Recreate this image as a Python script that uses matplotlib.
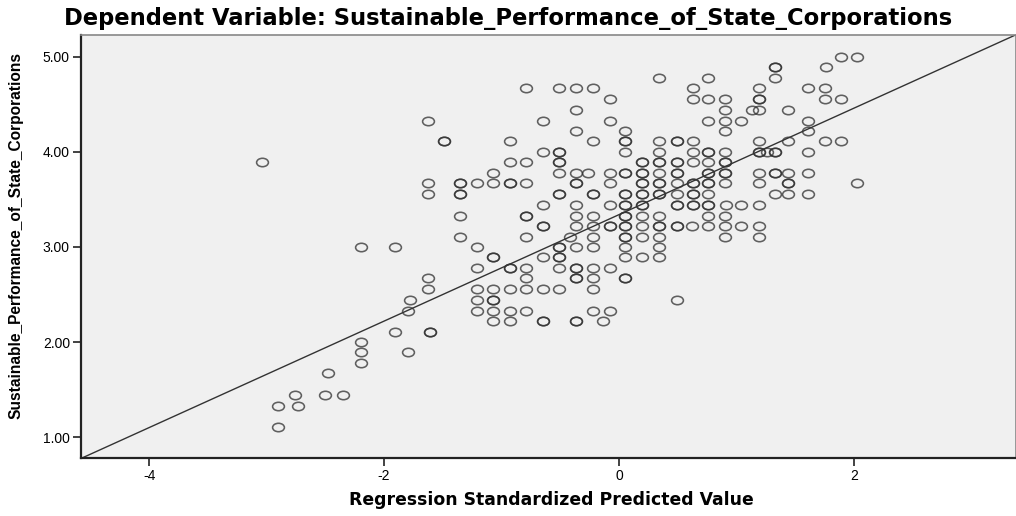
import numpy as np
import matplotlib.pyplot as plt
from matplotlib.path import Path

# Observed values (multiples of 1/9) and the standardized predicted values at each level
obs_levels = [5.00, 4.89, 4.78, 4.67, 4.56, 4.44, 4.33, 4.22, 4.11, 4.00,
              3.89, 3.78, 3.67, 3.56, 3.44, 3.33, 3.22, 3.11, 3.00, 2.89,
              2.78, 2.67, 2.56, 2.44, 2.33, 2.22, 2.11, 2.00, 1.89, 1.78,
              1.67, 1.44, 1.33, 1.11]

pred_by_level = [
    [1.89, 2.03],
    [1.33, 1.33, 1.76],
    [0.34, 0.76, 1.33],
    [-0.79, -0.51, -0.37, -0.22, 0.63, 1.19, 1.61, 1.75],
    [-0.08, 0.63, 0.76, 0.90, 1.19, 1.19, 1.75, 1.89],
    [-0.37, 0.90, 1.13, 1.19, 1.44],
    [-1.63, -0.65, -0.08, 0.76, 0.90, 1.04, 1.61],
    [-0.37, 0.05, 0.90, 1.61],
    [-1.49, -1.49, -0.93, -0.22, 0.05, 0.05, 0.34, 0.49, 0.49, 0.63, 1.19,
     1.44, 1.75, 1.89],
    [-0.65, -0.51, -0.51, 0.05, 0.34, 0.63, 0.76, 0.76, 0.90, 1.19, 1.19,
     1.26, 1.33, 1.33, 1.61],
    [-3.04, -0.93, -0.79, -0.51, -0.51, 0.20, 0.20, 0.34, 0.34, 0.49, 0.49,
     0.63, 0.76, 0.90, 0.90],
    [-1.07, -0.51, -0.37, -0.26, -0.08, 0.05, 0.05, 0.20, 0.20, 0.34, 0.49,
     0.49, 0.76, 0.76, 0.90, 0.90, 1.19, 1.33, 1.33, 1.44, 1.61],
    [-1.63, -1.35, -1.35, -1.21, -1.07, -0.93, -0.93, -0.79, -0.37, -0.37,
     -0.08, 0.20, 0.20, 0.34, 0.34, 0.49, 0.63, 0.63, 0.76, 0.76, 0.90,
     1.19, 1.44, 1.44, 2.03],
    [-1.63, -1.35, -1.35, -0.51, -0.51, -0.22, -0.22, 0.05, 0.05, 0.20, 0.20,
     0.34, 0.34, 0.49, 0.63, 0.63, 0.76, 1.33, 1.44, 1.61],
    [-0.65, -0.37, -0.08, 0.05, 0.05, 0.20, 0.20, 0.49, 0.49, 0.63, 0.63,
     0.76, 0.76, 0.91, 1.04, 1.19],
    [-1.35, -0.79, -0.79, -0.37, -0.22, 0.05, 0.05, 0.20, 0.34, 0.76, 0.90],
    [-0.65, -0.65, -0.37, -0.22, -0.08, -0.08, 0.05, 0.05, 0.20, 0.34, 0.34,
     0.49, 0.49, 0.62, 0.76, 0.90, 1.04, 1.19],
    [-1.35, -0.79, -0.42, -0.22, 0.05, 0.05, 0.20, 0.34, 0.90, 1.19],
    [-2.20, -1.91, -1.21, -0.51, -0.51, -0.37, -0.22, 0.05, 0.34],
    [-1.07, -1.07, -0.65, -0.51, -0.51, 0.05, 0.20, 0.34],
    [-1.21, -0.93, -0.93, -0.79, -0.51, -0.37, -0.37, -0.22, -0.08],
    [-1.63, -0.79, -0.37, -0.37, -0.22, 0.05, 0.05],
    [-1.63, -1.21, -1.07, -0.93, -0.79, -0.65, -0.51, -0.22],
    [-1.78, -1.21, -1.07, -1.07, 0.49],
    [-1.80, -1.21, -1.07, -0.93, -0.79, -0.22, -0.08],
    [-1.07, -0.93, -0.65, -0.65, -0.37, -0.37, -0.14],
    [-1.91, -1.61, -1.61],
    [-2.20],
    [-2.20, -1.80],
    [-2.20],
    [-2.48],
    [-2.76, -2.50, -2.35],
    [-2.90, -2.73],
    [-2.90],
]

# fit line as drawn by SPSS (total fit line)
fit_intercept = 3.34
fit_slope = 0.56

title = "Dependent Variable: Sustainable_Performance_of_State_Corporations"
x_label = "Regression Standardized Predicted Value"
y_label = "Sustainable_Performance_of_State_Corporations"
x_ticks = [-4, -2, 0, 2]
y_ticks = [1.0, 2.0, 3.0, 4.0, 5.0]

pred = np.concatenate([np.array(p) for p in pred_by_level])
obs = np.concatenate([[lvl] * len(p) for lvl, p in zip(obs_levels, pred_by_level)])

# slightly wide ellipse marker, like the stretched SPSS export
circle = Path.unit_circle()
ellipse = Path(circle.vertices * np.array([1.4, 1.0]), circle.codes)

fig = plt.figure(figsize=(10.16, 5.16), dpi=100)
ax = fig.add_axes([81 / 1016, 1 - 458 / 516, 1 - 81 / 1016, (458 - 35) / 516])
ax.set_facecolor("#f0f0f0")

ax.plot(pred, obs, linestyle="none", marker=ellipse, markersize=8.5,
        markerfacecolor="none", markeredgecolor="#2e2e2e", markeredgewidth=1.15,
        alpha=0.75)

xlim = (-4.58, 3.38)
ylim = (0.78, 5.23)

xs = np.array(xlim)
ax.plot(xs, fit_intercept + fit_slope * xs, color="#333333", linewidth=1.0)

ax.set_xlim(xlim)
ax.set_ylim(ylim)
ax.set_xticks(x_ticks)
ax.set_yticks(y_ticks)
ax.set_xticklabels([str(t) for t in x_ticks], family="Liberation Sans", fontsize=10)
ax.set_yticklabels([f"{t:.2f}" for t in y_ticks], family="Liberation Sans", fontsize=10)
ax.tick_params(direction="out", length=6, width=1.2, color="#222222", pad=2)

for side in ["left", "bottom"]:
    ax.spines[side].set_linewidth(1.6)
    ax.spines[side].set_color("#222222")
for side in ["top", "right"]:
    ax.spines[side].set_linewidth(1.2)
    ax.spines[side].set_color("#888888")

# wide bold face stands in for the horizontally stretched Arial of the export
fig.text(508 / 1016, 1 - 18 / 516, title, ha="center", va="center",
         family="DejaVu Sans", fontweight="bold", fontsize=16.3)
fig.text(551 / 1016, 1 - 500 / 516, x_label, ha="center", va="center",
         family="DejaVu Sans", fontweight="bold", fontsize=12.4)
fig.text(16 / 1016, 1 - 236 / 516, y_label, ha="center", va="center",
         rotation=90, family=["Liberation Sans Narrow", "Liberation Sans"],
         fontweight="bold", fontsize=11.2)

fig.savefig("out.png", dpi=100)
